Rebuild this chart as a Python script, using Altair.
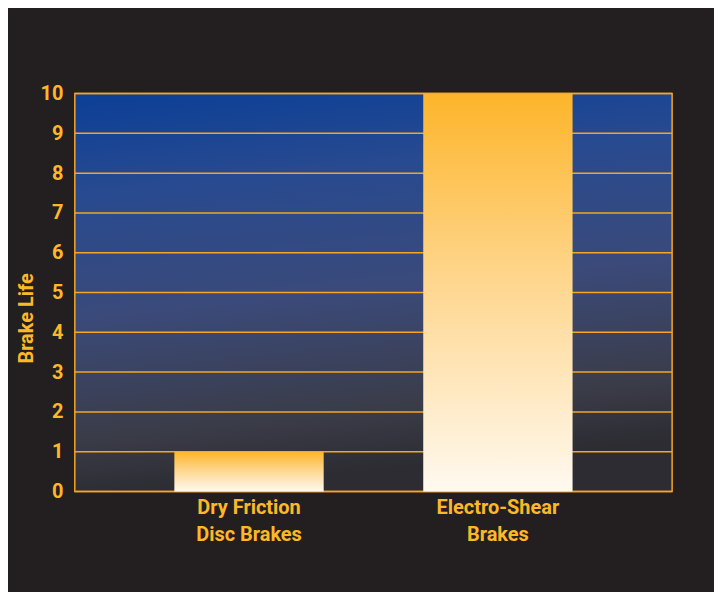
import altair as alt
import pandas as pd

categories = ["Dry Friction\nDisc Brakes", "Electro-Shear\nBrakes"]
brake_life = [1, 10]
y_ticks = [0, 1, 2, 3, 4, 5, 6, 7, 8, 9, 10]

W, H = 599, 399
ORANGE = "#fdb827"
GRID = "#f5a623"
FONT = "Roboto, sans-serif"

bars_df = pd.DataFrame({"cat": categories, "life": brake_life})
ticks_df = pd.DataFrame({"v": y_ticks})
bg_df = pd.DataFrame({"a": [0]})

yscale = alt.Scale(domain=[0, 10], nice=False)

y_axis = alt.Axis(
    title="Brake Life",
    values=y_ticks,
    grid=False,
    domain=False,
    ticks=False,
    labelOverlap=False,
    labelColor=ORANGE,
    labelFont=FONT,
    labelFontSize=20,
    labelFontWeight="bold",
    labelPadding=12,
    titleColor=ORANGE,
    titleFont=FONT,
    titleFontSize=20,
    titleFontWeight="bold",
    titleAngle=270,
    titleAlign="center",
    titleBaseline="middle",
    titleX=-48,
    titleY=225,
)

bg = alt.Chart(bg_df).mark_rect(
    fill=alt.Gradient(
        gradient="linear",
        x1=0, y1=0, x2=0.15, y2=1,
        stops=[
            alt.GradientStop(color="#0b3f96", offset=0),
            alt.GradientStop(color="#284a90", offset=0.25),
            alt.GradientStop(color="#3a4a7a", offset=0.55),
            alt.GradientStop(color="#3a3c48", offset=0.85),
            alt.GradientStop(color="#2c2c32", offset=1),
        ],
    ),
    stroke=GRID,
    strokeWidth=1.5,
).encode(
    x=alt.value(0), x2=alt.value(W), y=alt.value(0), y2=alt.value(H)
)

grid = alt.Chart(ticks_df).mark_rule(color=GRID, strokeWidth=1.5).encode(
    y=alt.Y("v:Q", scale=yscale, axis=y_axis)
)

bars = alt.Chart(bars_df).mark_bar(
    fill=alt.Gradient(
        gradient="linear",
        x1=0, y1=0, x2=0, y2=1,
        stops=[
            alt.GradientStop(color="#fdb52a", offset=0),
            alt.GradientStop(color="#fed58a", offset=0.45),
            alt.GradientStop(color="#fff9f0", offset=1),
        ],
    )
).encode(
    x=alt.X(
        "cat:N",
        sort=categories,
        scale=alt.Scale(paddingInner=0.4, paddingOuter=0.4),
        axis=alt.Axis(
            title=None,
            domain=False,
            ticks=False,
            labelAngle=0,
            labelColor=ORANGE,
            labelFont=FONT,
            labelFontSize=20,
            labelFontWeight="bold",
            labelLineHeight=27,
            labelPadding=6,
            labelExpr="split(datum.label, '\\n')",
        ),
    ),
    y=alt.Y("life:Q", scale=yscale, axis=y_axis),
)

chart = alt.layer(bg, grid, bars).properties(
    width=W,
    height=H,
    background="#231f20",
    padding={"left": 67, "top": 85, "right": 42, "bottom": 100},
    autosize=alt.AutoSizeParams(type="none"),
).configure_view(stroke=None)

chart.save("out.html", embed_options={"renderer": "svg", "actions": False})
